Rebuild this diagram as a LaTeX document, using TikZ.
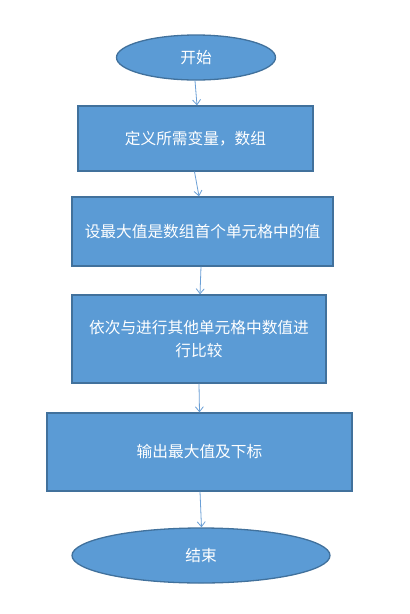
\documentclass[tikz,border=0pt]{standalone}
\usepackage{fontspec}
\setmainfont{Noto Sans CJK SC}
\usetikzlibrary{shapes.geometric,arrows.meta}
\definecolor{fillblue}{HTML}{5B9BD5}
\definecolor{edgeblue}{HTML}{41719C}
\definecolor{arrblue}{HTML}{6A9FD6}
\tikzset{
  x=1pt,y=-1pt,
  boxstyle/.style={rectangle,draw=edgeblue,line width=1.3pt,fill=fillblue,text=white,inner sep=0pt,font=\fontsize{15.7}{23}\selectfont,align=center},
  ovalstyle/.style={ellipse,draw=edgeblue,line width=1.3pt,fill=fillblue,text=white,inner sep=0pt,font=\fontsize{15.7}{23}\selectfont},
  arr/.style={draw=arrblue,line width=0.8pt,-{Straight Barb[length=5pt,width=8pt]}}
}
\begin{document}
\begin{tikzpicture}
\useasboundingbox (0,0) rectangle (410,614);
\fill[white] (0,0) rectangle (410,614);
\node[ovalstyle,minimum width=159pt,minimum height=45pt] (start) at (196,57.5) {开始};
\node[boxstyle,minimum width=235pt,minimum height=65pt] (b1) at (195.5,138.5) {定义所需变量，数组};
\node[boxstyle,minimum width=261pt,minimum height=69pt] (b2) at (202.5,231.5) {设最大值是数组首个单元格中的值};
\node[boxstyle,minimum width=254pt,minimum height=88pt] (b3) at (199,339) {依次与进行其他单元格中数值进\\行比较};
\node[boxstyle,minimum width=305pt,minimum height=78pt] (b4) at (199.5,452) {输出最大值及下标};
\node[ovalstyle,minimum width=258pt,minimum height=55pt] (end) at (201,555.5) {结束};
\draw[arr] ([xshift=-1pt]start.south) -- ([xshift=1.5pt]b1.north);
\draw[arr] ([xshift=-1pt]b1.south) -- ([xshift=-3.5pt]b2.north);
\draw[arr] ([xshift=-1.5pt]b2.south) -- ([xshift=1pt]b3.north);
\draw[arr] (b3.south) -- ([xshift=0pt]b4.north);
\draw[arr] ([xshift=0.5pt]b4.south) -- ([xshift=0.5pt]end.north);
\end{tikzpicture}
\end{document}
